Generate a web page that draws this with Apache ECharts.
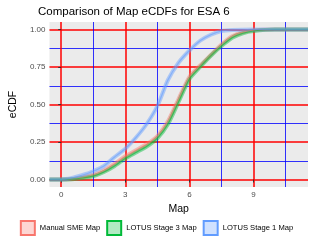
<!DOCTYPE html>
<html>
<head>
<meta charset="utf-8">
<script src="https://cdn.jsdelivr.net/npm/echarts@6/dist/echarts.min.js"></script>
<style>html,body{margin:0;padding:0;background:#fff}#c{width:313px;height:250px}</style>
</head>
<body>
<div id="c"></div>
<script>
// ---- data ----
const seriesNames = ['Manual SME Map', 'LOTUS Stage 3 Map', 'LOTUS Stage 1 Map'];
const smeX = [0, 0.5, 1, 1.5, 2, 2.5, 3, 3.5, 4, 4.5, 5, 5.5, 6, 6.5, 7, 7.5, 8, 8.5, 9, 10, 11];
const smeY = [0, 0.003, 0.015, 0.03, 0.06, 0.105, 0.155, 0.195, 0.235, 0.29, 0.39, 0.54, 0.685, 0.76, 0.83, 0.9, 0.955, 0.982, 0.995, 1, 1];
const stage3X = [0, 0.5, 1, 1.5, 2, 2.5, 3, 3.5, 4, 4.5, 5, 5.5, 6, 6.5, 7, 7.5, 8, 8.5, 9, 10, 11];
const stage3Y = [0, 0.002, 0.01, 0.022, 0.05, 0.09, 0.14, 0.18, 0.22, 0.275, 0.37, 0.52, 0.67, 0.75, 0.825, 0.89, 0.945, 0.975, 0.99, 1, 1];
const stage1X = [0, 0.5, 1, 1.5, 2, 2.5, 3, 3.5, 4, 4.5, 5, 5.5, 6, 6.5, 7, 7.5, 8, 9, 10, 11];
const stage1Y = [0, 0.01, 0.03, 0.055, 0.09, 0.15, 0.205, 0.28, 0.37, 0.49, 0.665, 0.78, 0.86, 0.925, 0.965, 0.99, 0.997, 1, 1, 1];
const xTicks = [0, 3, 6, 9];
const xMinor = [1.5, 4.5, 7.5, 10.5];
const yTicks = [0, 0.25, 0.5, 0.75, 1];
const yMinor = [0.125, 0.375, 0.625, 0.875];
const yTickLabels = ['0.00', '0.25', '0.50', '0.75', '1.00'];

const X_MIN = -0.55, X_MAX = 11.55, Y_MIN = -0.05, Y_MAX = 1.05;
const colors = ['#F8766D', '#00BA38', '#619CFF'];
function rgba(hex, a) {
  const n = parseInt(hex.slice(1), 16);
  return 'rgba(' + (n >> 16) + ',' + ((n >> 8) & 255) + ',' + (n & 255) + ',' + a + ')';
}
function pairs(xs, ys) {
  const d = [[X_MIN, 0]];
  xs.forEach((x, i) => d.push([x, ys[i]]));
  d.push([X_MAX, 1]);
  return d;
}
const datasets = [pairs(smeX, smeY), pairs(stage3X, stage3Y), pairs(stage1X, stage1Y)];

const series = [];
datasets.forEach((d, i) => {
  series.push({
    name: seriesNames[i], type: 'line', data: d, showSymbol: false, smooth: 0.2,
    z: 3 + i, color: rgba(colors[i], 0.3),
    itemStyle: {color: rgba(colors[i], 0.3), borderColor: colors[i], borderWidth: 1},
    lineStyle: {color: rgba(colors[i], 0.45), width: 4}, animation: false
  });
  series.push({
    type: 'line', data: d, showSymbol: false, smooth: 0.2, z: 6 + i,
    lineStyle: {color: rgba(colors[i], 0.55), width: 1.2}, animation: false
  });
});

const font = 'Liberation Sans';

const chart = echarts.init(document.getElementById('c'), null, {renderer: 'canvas'});
chart.setOption({
  backgroundColor: '#ffffff',
  animation: false,
  title: {text: 'Comparison of Map eCDFs for ESA 6', left: 33, top: 1,
    textStyle: {fontFamily: font, fontSize: 11.5, fontWeight: 'normal', color: '#000'}},
  grid: {left: 35, right: 5, top: 22, bottom: 63, show: true, backgroundColor: '#EBEBEB', borderWidth: 0},
  xAxis: [{
    type: 'value', min: X_MIN, max: X_MAX,
    name: 'Map', nameLocation: 'middle', nameGap: 15,
    nameTextStyle: {fontFamily: font, fontSize: 10.5, color: '#000'},
    axisLine: {show: false},
    axisTick: {show: true, customValues: xTicks, length: 3, lineStyle: {color: '#333'}},
    axisLabel: {customValues: xTicks, fontFamily: font, fontSize: 8, color: '#4D4D4D', margin: 4},
    splitLine: {show: true, lineStyle: {color: 'red', width: 1.5}}
  }, {
    type: 'value', min: X_MIN, max: X_MAX, position: 'bottom',
    axisLine: {show: false}, axisLabel: {show: false, customValues: xMinor},
    axisTick: {show: false, customValues: xMinor},
    splitLine: {show: true, lineStyle: {color: 'blue', width: 0.8}}
  }],
  yAxis: [{
    type: 'value', min: Y_MIN, max: Y_MAX,
    name: 'eCDF', nameLocation: 'middle', nameGap: 26, nameRotate: 90,
    nameTextStyle: {fontFamily: font, fontSize: 10.5, color: '#000'},
    axisLine: {show: false},
    axisTick: {show: true, customValues: yTicks, length: 3, lineStyle: {color: '#333'}},
    axisLabel: {customValues: yTicks, fontFamily: font, fontSize: 8, color: '#4D4D4D', margin: 4,
      formatter: v => yTickLabels[yTicks.indexOf(v)] !== undefined ? yTickLabels[yTicks.indexOf(v)] : v.toFixed(2)},
    splitLine: {show: true, lineStyle: {color: 'red', width: 1.5}}
  }, {
    type: 'value', min: Y_MIN, max: Y_MAX, position: 'left',
    axisLine: {show: false}, axisLabel: {show: false, customValues: yMinor},
    axisTick: {show: false, customValues: yMinor},
    splitLine: {show: true, lineStyle: {color: 'blue', width: 0.8}}
  }],
  legend: {
    data: seriesNames, bottom: 9, left: 'center', width: 300, icon: 'rect',
    itemWidth: 14, itemHeight: 14, itemGap: 6,
    textStyle: {fontFamily: font, fontSize: 7.6, color: '#000', padding: [0, 0, 0, 0]}
  },
  series: series
});
</script>
</body>
</html>
